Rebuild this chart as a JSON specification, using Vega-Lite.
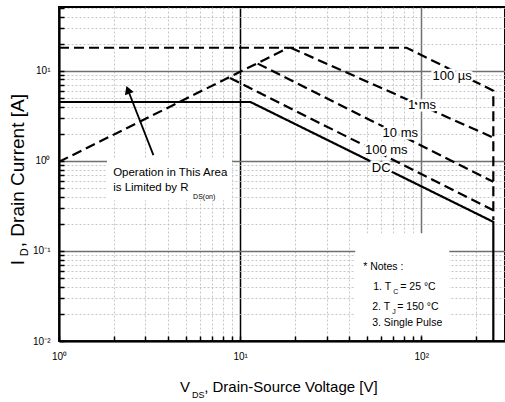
{
  "$schema": "https://vega.github.io/schema/vega-lite/v6.json",
  "width": 446,
  "height": 334,
  "autosize": "none",
  "padding": {"left": 59, "top": 7, "right": 0, "bottom": 61},
  "background": "white",
  "config": {"view": {"stroke": "#000", "strokeWidth": 2}, "font": "Liberation Sans"},
  "datasets": {
    "curves": [
      {"s": "RDS", "o": 1, "V": 1, "I": 0.975},
      {"s": "RDS", "o": 2, "V": 18.5, "I": 18},
      {"s": "100 µs", "o": 1, "V": 1, "I": 18},
      {"s": "100 µs", "o": 2, "V": 83, "I": 18},
      {"s": "100 µs", "o": 3, "V": 250, "I": 6.0},
      {"s": "100 µs", "o": 4, "V": 250, "I": 0.22},
      {"s": "1 ms", "o": 1, "V": 19, "I": 18},
      {"s": "1 ms", "o": 2, "V": 250, "I": 1.81},
      {"s": "10 ms", "o": 1, "V": 12.5, "I": 12.0},
      {"s": "10 ms", "o": 2, "V": 250, "I": 0.585},
      {"s": "100 ms", "o": 1, "V": 8.8, "I": 8.3},
      {"s": "100 ms", "o": 2, "V": 250, "I": 0.283},
      {"s": "DC", "o": 1, "V": 1, "I": 4.5},
      {"s": "DC", "o": 2, "V": 11.4, "I": 4.5},
      {"s": "DC", "o": 3, "V": 250, "I": 0.21},
      {"s": "DC", "o": 4, "V": 250, "I": 0.01}
    ],
    "boxes": [
      {"V": 1.84, "V2": 9.03, "I": 0.366, "I2": 1.07},
      {"V": 43.2, "V2": 142.8, "I": 0.0116, "I2": 0.157}
    ],
    "arrow": [
      {"o": 1, "V": 3.32, "I": 1.156},
      {"o": 2, "V": 2.40, "I": 6.15}
    ],
    "arrowhead": [
      {"V": 2.40, "I": 6.15}
    ],
    "texts": [
      {"g": "curve", "t": "100 µs", "V": 148, "I": 8.73},
      {"g": "curve", "t": "1 ms", "V": 101, "I": 4.16},
      {"g": "curve", "t": "10 ms", "V": 76.6, "I": 2.03},
      {"g": "curve", "t": "100 ms", "V": 64.1, "I": 1.31},
      {"g": "curve", "t": "DC", "V": 60.1, "I": 0.83},
      {"g": "op", "t": "Operation in This Area", "V": 1.99, "I": 0.73},
      {"g": "op", "t": "is Limited by R", "V": 1.99, "I": 0.497},
      {"g": "opsub", "t": "DS(on)", "V": 5.5, "I": 0.40},
      {"g": "note", "t": "* Notes :", "V": 47.8, "I": 0.0659},
      {"g": "note", "t": "1. T", "V": 54.3, "I": 0.0395},
      {"g": "note", "t": "= 25 °C", "V": 76.6, "I": 0.0395},
      {"g": "note", "t": "2. T", "V": 53.6, "I": 0.0237},
      {"g": "note", "t": "= 150 °C", "V": 73.7, "I": 0.0237},
      {"g": "note", "t": "3. Single Pulse", "V": 53.6, "I": 0.0157},
      {"g": "notesub", "t": "C", "V": 70.0, "I": 0.0352},
      {"g": "notesub", "t": "J", "V": 69.2, "I": 0.0211},
      {"g": "xt", "t": "V", "V": 4.66, "I": 0.00269},
      {"g": "xt", "t": ", Drain-Source Voltage [V]", "V": 6.33, "I": 0.00269},
      {"g": "xts", "t": "DS", "V": 5.43, "I": 0.00234},
      {"g": "yt", "t": "I", "V": 0.641, "I": 0.0694},
      {"g": "yt", "t": ", Drain Current [A]", "V": 0.641, "I": 0.110},
      {"g": "yts", "t": "D", "V": 0.674, "I": 0.0873}
    ]
  },
  "encoding": {
    "x": {
      "field": "V", "type": "quantitative",
      "scale": {"type": "log", "domain": [1, 290]},
      "axis": {
        "title": null,
        "values": [1, 2, 3, 4, 5, 6, 7, 8, 9, 10, 20, 30, 40, 50, 60, 70, 80, 90, 100, 200],
        "labelExpr": "datum.value===1?'10⁰':datum.value===10?'10¹':datum.value===100?'10²':''",
        "labelFont": "Liberation Sans", "labelFontSize": 10, "labelColor": "#000", "labelPadding": 15,
        "labelOverlap": false, "labelBound": false, "labelFlush": false,
        "domainColor": "#000", "domainWidth": 2,
        "tickColor": "#000", "tickWidth": 1.5, "tickSize": -5,
        "grid": true,
        "gridColor": {"condition": [{"test": "datum.value===10", "value": "#000"}, {"test": "indexof([1,100],datum.value)>=0", "value": "#6f6f6f"}], "value": "#b8b8b8"},
        "gridDash": {"condition": {"test": "indexof([1,10,100],datum.value)>=0", "value": []}, "value": [2, 2]},
        "gridWidth": {"condition": {"test": "indexof([1,10,100],datum.value)>=0", "value": 1.5}, "value": 0.8}
      }
    },
    "y": {
      "field": "I", "type": "quantitative",
      "scale": {"type": "log", "domain": [0.01, 51]},
      "axis": {
        "title": null,
        "values": [0.01, 0.02, 0.03, 0.04, 0.05, 0.06, 0.07, 0.08, 0.09, 0.1, 0.2, 0.3, 0.4, 0.5, 0.6, 0.7, 0.8, 0.9, 1, 2, 3, 4, 5, 6, 7, 8, 9, 10, 20, 30, 40, 50],
        "labelExpr": "datum.value===0.01?'10⁻²':datum.value===0.1?'10⁻¹':datum.value===1?'10⁰':datum.value===10?'10¹':''",
        "labelFont": "Liberation Sans", "labelFontSize": 10, "labelColor": "#000", "labelPadding": 14,
        "labelOverlap": false, "labelBound": false, "labelFlush": false,
        "domainColor": "#000", "domainWidth": 2,
        "tickColor": "#000", "tickWidth": 1.5, "tickSize": -5,
        "grid": true,
        "gridColor": {"condition": {"test": "indexof([0.01,0.1,1,10],datum.value)>=0", "value": "#6f6f6f"}, "value": "#b8b8b8"},
        "gridDash": {"condition": {"test": "indexof([0.01,0.1,1,10],datum.value)>=0", "value": []}, "value": [2, 2]},
        "gridWidth": {"condition": {"test": "indexof([0.01,0.1,1,10],datum.value)>=0", "value": 1.5}, "value": 0.8}
      }
    }
  },
  "layer": [
    {
      "data": {"name": "boxes"},
      "mark": {"type": "rect", "fill": "white", "stroke": null},
      "encoding": {"x2": {"field": "V2"}, "y2": {"field": "I2"}}
    },
    {
      "data": {"name": "curves"},
      "mark": {"type": "line", "strokeWidth": 2.2, "color": "#000", "clip": true},
      "encoding": {
        "order": {"field": "o", "type": "quantitative"},
        "strokeDash": {
          "field": "s", "type": "nominal",
          "scale": {"domain": ["RDS", "100 µs", "1 ms", "10 ms", "100 ms", "DC"], "range": [[10, 5], [10, 5], [10, 5], [10, 5], [10, 5], [1, 0]]},
          "legend": null
        }
      }
    },
    {
      "data": {"name": "arrow"},
      "mark": {"type": "line", "strokeWidth": 1.8, "color": "#000"},
      "encoding": {"order": {"field": "o", "type": "quantitative"}}
    },
    {
      "data": {"name": "arrowhead"},
      "mark": {"type": "point", "shape": "triangle-up", "filled": true, "color": "#000", "size": 90, "angle": -21, "opacity": 1}
    },
    {
      "data": {"name": "texts"},
      "transform": [{"filter": "datum.g==='curve'"}],
      "mark": {"type": "text", "fontSize": 13, "align": "center", "baseline": "middle", "fill": "white", "stroke": "white", "strokeWidth": 5},
      "encoding": {"text": {"field": "t"}}
    },
    {
      "data": {"name": "texts"},
      "transform": [{"filter": "datum.g==='curve'"}],
      "mark": {"type": "text", "fontSize": 13, "align": "center", "baseline": "middle", "color": "#000"},
      "encoding": {"text": {"field": "t"}}
    },
    {
      "data": {"name": "texts"},
      "transform": [{"filter": "datum.g==='op'"}],
      "mark": {"type": "text", "fontSize": 11.5, "align": "left", "baseline": "middle", "color": "#000"},
      "encoding": {"text": {"field": "t"}}
    },
    {
      "data": {"name": "texts"},
      "transform": [{"filter": "datum.g==='opsub'"}],
      "mark": {"type": "text", "fontSize": 7, "align": "left", "baseline": "middle", "color": "#000"},
      "encoding": {"text": {"field": "t"}}
    },
    {
      "data": {"name": "texts"},
      "transform": [{"filter": "datum.g==='note'"}],
      "mark": {"type": "text", "fontSize": 10.5, "align": "left", "baseline": "middle", "color": "#000"},
      "encoding": {"text": {"field": "t"}}
    },
    {
      "data": {"name": "texts"},
      "transform": [{"filter": "datum.g==='notesub'"}],
      "mark": {"type": "text", "fontSize": 7, "align": "left", "baseline": "middle", "color": "#000"},
      "encoding": {"text": {"field": "t"}}
    },
    {
      "data": {"name": "texts"},
      "transform": [{"filter": "datum.g==='xt'"}],
      "mark": {"type": "text", "fontSize": 15, "align": "left", "baseline": "alphabetic", "color": "#000"},
      "encoding": {"text": {"field": "t"}}
    },
    {
      "data": {"name": "texts"},
      "transform": [{"filter": "datum.g==='xts'"}],
      "mark": {"type": "text", "fontSize": 9, "align": "left", "baseline": "alphabetic", "color": "#000"},
      "encoding": {"text": {"field": "t"}}
    },
    {
      "data": {"name": "texts"},
      "transform": [{"filter": "datum.g==='yt'"}],
      "mark": {"type": "text", "fontSize": 19, "angle": 270, "align": "left", "baseline": "alphabetic", "color": "#000"},
      "encoding": {"text": {"field": "t"}}
    },
    {
      "data": {"name": "texts"},
      "transform": [{"filter": "datum.g==='yts'"}],
      "mark": {"type": "text", "fontSize": 11, "angle": 270, "align": "left", "baseline": "alphabetic", "color": "#000"},
      "encoding": {"text": {"field": "t"}}
    }
  ]
}
